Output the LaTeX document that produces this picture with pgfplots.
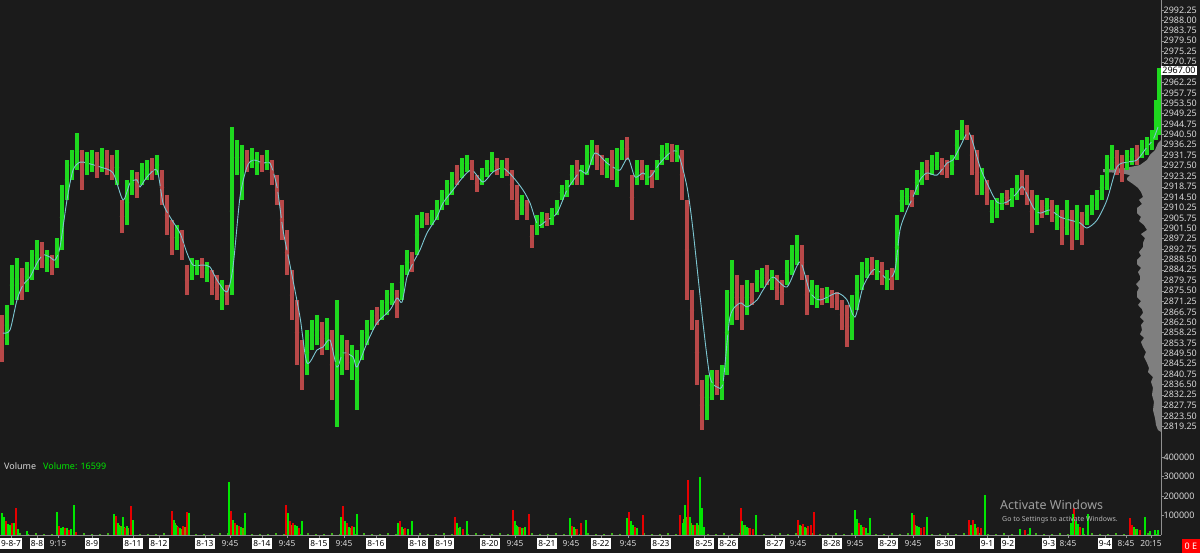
\documentclass[border=0pt]{standalone}
\usepackage{pgfplots}
\pgfplotsset{compat=1.18}
\usepackage{pgfplotstable}
\usepackage{fontspec}
\setmainfont{Noto Sans}
\definecolor{bg}{HTML}{1B1B1B}
\definecolor{candleG}{HTML}{1ED81E}
\definecolor{candleR}{HTML}{B84848}
\definecolor{volG}{HTML}{00E600}
\definecolor{volR}{HTML}{E60000}
\definecolor{volO}{HTML}{8A8A00}
\definecolor{volF}{HTML}{3CB414}
\definecolor{maC}{HTML}{7CC6D2}
\definecolor{profC}{HTML}{7F7F7F}
\definecolor{txt}{HTML}{D8D8D8}
\definecolor{axisC}{HTML}{909090}

% up candles: x, low, high
\pgfplotstableread{
x lo hi
7 2852.9 2869.6
12 2869.6 2886.2
17 2871.7 2889.1
27 2875.0 2887.5
32 2880.0 2892.5
37 2884.1 2896.6
47 2883.3 2892.5
57 2885.0 2897.4
62 2892.5 2919.5
67 2913.3 2929.9
72 2921.6 2934.0
77 2925.7 2941.1
87 2923.6 2933.2
92 2924.9 2934.0
102 2924.9 2934.9
117 2919.5 2934.0
127 2902.8 2921.6
132 2915.3 2925.7
142 2919.5 2928.6
147 2921.6 2929.9
157 2923.6 2932.0
177 2892.5 2902.8
192 2880.0 2889.1
197 2882.1 2888.3
207 2879.1 2887.5
222 2867.5 2880.0
232 2873.7 2943.6
237 2923.6 2938.2
242 2913.3 2936.1
252 2926.5 2934.9
257 2923.6 2933.2
267 2925.7 2934.0
307 2840.5 2859.2
312 2850.9 2863.3
317 2852.9 2865.4
327 2850.9 2864.2
337 2818.9 2871.7
342 2840.5 2857.1
352 2838.4 2852.9
357 2825.9 2850.9
362 2846.7 2859.2
367 2852.9 2863.3
372 2859.2 2867.5
382 2863.3 2871.7
387 2865.4 2875.8
392 2869.6 2878.7
402 2871.7 2886.2
407 2882.1 2892.5
417 2890.4 2907.0
422 2901.6 2908.3
432 2902.8 2909.1
437 2904.9 2913.3
442 2909.1 2917.4
447 2911.2 2921.6
452 2915.3 2924.9
462 2922.4 2930.7
467 2924.9 2932.0
482 2919.5 2926.5
487 2922.8 2929.9
492 2924.9 2933.2
502 2922.4 2929.9
522 2907.0 2915.3
537 2898.7 2907.0
542 2901.6 2908.3
552 2902.8 2909.9
557 2907.0 2913.3
562 2913.3 2919.5
567 2914.5 2921.6
572 2919.5 2927.8
582 2919.5 2927.8
587 2923.6 2936.1
592 2927.8 2938.2
607 2922.4 2930.7
617 2918.7 2934.9
622 2929.9 2938.2
637 2919.5 2929.9
647 2919.5 2927.8
657 2921.6 2929.9
662 2927.8 2936.1
667 2929.9 2936.9
677 2929.0 2936.1
707 2821.8 2840.5
712 2830.1 2842.6
722 2830.1 2844.6
727 2840.5 2875.8
732 2861.3 2888.3
747 2865.4 2880.0
757 2875.0 2884.1
762 2876.7 2885.0
772 2875.8 2884.1
787 2877.9 2888.3
792 2882.1 2894.5
797 2886.2 2898.7
812 2869.6 2880.0
817 2868.3 2877.9
827 2870.4 2877.1
852 2855.0 2873.7
857 2867.5 2882.1
862 2875.8 2887.5
867 2880.8 2889.1
877 2880.0 2888.3
887 2875.8 2884.1
897 2880.0 2907.0
902 2908.3 2917.4
907 2911.2 2918.3
917 2915.3 2925.7
922 2919.5 2929.0
932 2923.6 2932.0
937 2925.7 2933.2
952 2923.6 2932.0
957 2929.9 2942.3
962 2938.2 2946.5
982 2915.3 2926.5
992 2903.7 2913.3
997 2905.8 2914.1
1002 2909.1 2916.2
1012 2910.3 2918.3
1017 2913.3 2923.6
1037 2902.8 2915.3
1047 2907.0 2914.1
1057 2900.8 2911.2
1067 2898.7 2913.3
1077 2896.6 2911.2
1087 2902.8 2911.2
1092 2907.0 2915.3
1097 2909.1 2917.4
1102 2913.3 2923.6
1107 2917.4 2932.0
1112 2925.7 2936.1
1127 2925.7 2934.0
1132 2927.8 2934.9
1142 2930.7 2938.2
1147 2932.0 2939.4
1152 2934.0 2942.3
1156 2938.2 2954.8
1159 2940.3 2968.0
}\upC

% down candles: x, low, high
\pgfplotstableread{
x lo hi
2 2845.9 2865.4
22 2871.7 2885.0
42 2885.0 2895.8
52 2882.1 2890.4
82 2917.4 2934.0
97 2922.4 2933.2
107 2923.6 2934.0
112 2921.6 2932.0
122 2899.5 2913.3
137 2914.1 2924.9
152 2921.6 2930.7
162 2911.2 2925.7
167 2898.7 2915.3
172 2890.4 2904.9
182 2888.3 2900.8
187 2873.7 2886.2
202 2880.8 2889.1
212 2873.7 2884.1
217 2871.7 2882.1
227 2869.6 2877.9
247 2924.9 2934.0
262 2924.9 2932.0
272 2919.5 2929.9
277 2911.2 2923.6
282 2896.6 2913.3
287 2882.1 2900.8
292 2863.3 2884.1
297 2844.6 2871.7
302 2834.2 2855.0
322 2848.8 2862.5
332 2830.1 2859.2
347 2842.6 2855.0
377 2861.3 2868.8
397 2864.2 2875.8
412 2883.3 2891.6
427 2902.8 2907.8
457 2919.5 2927.8
472 2921.6 2929.9
477 2916.6 2923.6
497 2923.6 2930.7
507 2923.2 2930.7
512 2913.3 2925.7
517 2904.9 2919.5
527 2904.9 2913.3
532 2893.3 2902.8
547 2902.4 2907.8
577 2919.5 2929.9
597 2925.7 2936.1
602 2923.6 2932.0
612 2921.6 2934.0
627 2929.9 2939.4
632 2904.9 2923.6
642 2921.6 2929.9
652 2918.3 2925.7
672 2929.0 2936.5
682 2913.3 2934.0
687 2871.7 2913.3
692 2859.2 2875.8
697 2836.3 2863.3
702 2817.6 2838.4
717 2832.2 2842.6
737 2863.3 2882.1
742 2859.2 2877.9
752 2869.6 2878.7
767 2877.9 2886.2
777 2871.7 2882.1
782 2869.6 2880.0
802 2880.0 2894.5
807 2865.4 2882.1
822 2869.6 2876.7
832 2868.3 2875.8
837 2867.5 2875.0
842 2859.2 2871.7
847 2852.1 2869.6
872 2882.1 2889.5
882 2877.9 2887.5
892 2875.8 2885.0
912 2910.3 2917.4
927 2921.6 2929.9
942 2923.6 2930.7
947 2922.4 2929.9
967 2938.2 2944.4
972 2923.6 2940.3
977 2915.3 2934.0
987 2911.2 2921.6
1007 2911.2 2917.4
1022 2915.3 2925.7
1027 2911.2 2923.6
1032 2899.5 2917.4
1042 2905.8 2913.3
1052 2904.1 2913.3
1062 2894.5 2909.1
1072 2892.5 2909.1
1082 2894.5 2908.3
1117 2923.6 2934.0
1122 2920.7 2932.0
1137 2927.8 2936.1
}\downC

% volume, up bars
\pgfplotstableread{
x v
2 111000
4 94000
8 55000
10 51000
14 60000
18 30000
27 20000
57 118000
61 34000
63 40000
67 35000
71 30000
74 154000
114 107000
118 60000
120 40000
123 91000
127 45000
133 77000
174 77000
176 50000
180 35000
189 111000
229 273000
233 77000
237 50000
241 40000
245 115000
288 111000
295 50000
297 45000
302 70000
341 90000
345 70000
349 40000
354 40000
357 110000
398 60000
402 40000
408 30000
412 70000
457 60000
460 40000
467 70000
515 71000
517 46000
522 35000
525 39000
570 88000
574 40000
586 76000
627 85000
631 71000
633 50000
637 35000
683 60000
685 153000
690 93000
693 51000
697 59000
700 300000
702 136000
704 40000
742 71000
745 50000
747 40000
756 103000
800 50000
805 40000
855 127000
857 80000
861 50000
866 35000
870 88000
912 114000
917 45000
919 40000
927 93000
971 50000
975 55000
985 203000
1020 30000
1030 35000
1071 60000
1073 110000
1076 70000
1078 55000
1083 35000
1088 107000
1134 40000
1137 30000
1145 92000
1150 20000
1155 25000
1158 26000
}\volUp

% volume, down bars
\pgfplotstableread{
x v
6 70000
12 60000
16 137000
59 45000
65 34000
69 28000
76 17000
116 95000
125 35000
131 149000
172 125000
178 40000
183 45000
187 118000
231 125000
235 60000
239 45000
286 154000
290 70000
293 60000
299 35000
343 150000
347 60000
352 45000
400 70000
405 35000
455 90000
463 30000
513 127000
520 40000
524 34000
529 107000
572 46000
577 30000
581 59000
629 119000
635 40000
643 102000
680 102000
688 280000
695 50000
741 136000
750 35000
753 30000
798 76000
803 55000
808 45000
811 50000
814 119000
859 60000
864 40000
914 102000
921 35000
924 40000
969 76000
973 76000
978 40000
981 38000
1025 25000
1074 136000
1080 40000
1130 87000
1132 51000
1140 25000
}\volDn

% volume, mixed-colour bars inside the opening clusters
\pgfplotstableread{
x v
9 45000
11 40000
13 50000
62 30000
64 28000
66 30000
70 25000
119 50000
121 45000
124 40000
128 38000
175 60000
177 45000
179 35000
181 30000
185 40000
232 70000
234 55000
236 45000
238 40000
240 38000
243 35000
289 60000
291 50000
294 45000
296 40000
344 60000
346 50000
348 40000
350 35000
401 40000
403 30000
456 45000
458 35000
514 60000
516 50000
518 40000
521 35000
571 40000
573 35000
575 30000
628 60000
630 55000
632 45000
634 40000
684 80000
686 90000
689 70000
691 60000
694 45000
696 40000
698 50000
743 50000
744 45000
746 40000
748 35000
799 50000
801 45000
804 40000
806 35000
856 70000
858 55000
860 45000
862 40000
913 60000
915 50000
918 40000
970 45000
972 45000
974 40000
976 35000
1072 55000
1075 70000
1077 50000
1079 40000
1131 50000
1133 40000
1135 30000
}\volMix

% low overnight volume
\pgfplotstableread{
x v
20 8000
28 5000
36 10000
44 6000
52 4000
60 9000
68 7000
76 5000
84 11000
92 6000
100 4000
108 8000
116 12000
124 6000
132 9000
140 5000
148 7000
156 4000
164 10000
172 8000
180 6000
188 9000
196 5000
204 7000
212 4000
220 11000
228 8000
236 6000
244 9000
252 5000
260 7000
268 4000
276 10000
284 6000
292 8000
300 5000
308 9000
316 7000
324 4000
332 11000
340 6000
348 8000
356 5000
364 9000
372 7000
380 4000
388 10000
396 6000
404 8000
412 5000
420 9000
428 7000
436 4000
444 11000
452 6000
460 8000
468 5000
476 9000
484 7000
492 4000
500 10000
508 6000
516 8000
524 5000
532 9000
540 7000
548 4000
556 11000
564 6000
572 8000
580 5000
588 9000
596 7000
604 4000
612 10000
620 6000
628 8000
636 5000
644 9000
652 7000
660 4000
668 11000
676 6000
684 8000
692 5000
700 9000
708 7000
716 4000
724 10000
732 6000
740 8000
748 5000
756 9000
764 7000
772 4000
780 11000
788 6000
796 8000
804 5000
812 9000
820 7000
828 4000
836 10000
844 6000
852 8000
860 5000
868 9000
876 7000
884 4000
892 11000
900 6000
908 8000
916 5000
924 9000
932 7000
940 4000
948 10000
956 6000
964 8000
972 5000
980 9000
988 7000
996 4000
1004 11000
1012 6000
1020 8000
1028 5000
1036 9000
1044 7000
1052 4000
1060 10000
1068 6000
1076 8000
1084 5000
1092 9000
1100 7000
1108 4000
1116 11000
1124 6000
1132 8000
1140 5000
1148 9000
1156 7000
}\volLow

\begin{document}
\begin{tikzpicture}[font=\fontsize{9}{10}\selectfont]
\useasboundingbox (0,0) rectangle (1200bp,553bp);
\fill[bg] (0,0) rectangle (1200bp,553bp);

% ---------------- price panel ----------------
\begin{axis}[
  at={(0,103bp)}, anchor=south west,
  scale only axis, width=1161bp, height=450bp,
  xmin=0, xmax=1161, ymin=2809.3, ymax=2996.41,
  clip=false,
  axis x line=none, axis y line*=right,
  y axis line style={-, draw=axisC},
  tick style={draw=axisC}, major tick length=3bp, tick align=outside,
  ytick={2819.25,2823.50,2827.75,2832.25,2836.50,2840.75,2845.25,2849.50,2853.75,2858.25,2862.50,2866.75,2871.25,2875.50,2879.75,2884.25,2888.50,2892.75,2897.25,2901.50,2905.75,2910.25,2914.50,2918.75,2923.25,2927.50,2931.75,2936.25,2940.50,2944.75,2949.25,2953.50,2957.75,2962.25,2970.75,2975.25,2979.50,2983.75,2988.00,2992.25},
  yticklabels={2819.25,2823.50,2827.75,2832.25,2836.50,2840.75,2845.25,2849.50,2853.75,2858.25,2862.50,2866.75,2871.25,2875.50,2879.75,2884.25,2888.50,2892.75,2897.25,2901.50,2905.75,2910.25,2914.50,2918.75,2923.25,2927.50,2931.75,2936.25,2940.50,2944.75,2949.25,2953.50,2957.75,2962.25,2970.75,2975.25,2979.50,2983.75,2988.00,2992.25},
  yticklabel style={text=txt, inner sep=0.5bp, anchor=west, xshift=-1bp},
  /pgf/number format/assume math mode=true,
]
% volume profile
\addplot[fill=profC, draw=none] coordinates {
(1161,2938.2) (1158,2936.9) (1155,2934.0) (1150,2932.0) (1147,2929.9) (1140,2927.8) (1125,2926.5) (1103,2926.1) (1103,2924.9) (1120,2924.5) (1130,2923.6) (1127,2922.4) (1127,2921.6) (1133,2919.9) (1138,2918.3) (1141,2916.6) (1143,2914.5) (1139,2913.3) (1142,2911.6) (1137,2909.9) (1137,2907.8) (1141,2906.2) (1139,2904.5) (1144,2902.8) (1147,2900.8) (1141,2899.1) (1145,2897.4) (1143,2895.4) (1143,2893.7) (1139,2891.6) (1141,2890.0) (1137,2888.3) (1137,2886.6) (1141,2885.0) (1138,2883.3) (1140,2881.6) (1140,2880.0) (1136,2878.3) (1139,2876.7) (1137,2875.0) (1137,2872.9) (1141,2871.2) (1138,2869.6) (1142,2867.9) (1143,2866.3) (1140,2864.6) (1144,2862.9) (1141,2861.3) (1142,2859.2) (1140,2857.5) (1144,2855.9) (1141,2854.2) (1143,2852.1) (1146,2850.0) (1144,2848.0) (1147,2845.5) (1149,2843.4) (1148,2841.7) (1153,2839.6) (1151,2837.6) (1153,2835.1) (1152,2832.2) (1154,2829.3) (1153,2825.9) (1155,2822.6) (1156,2819.7) (1158,2817.6) (1161,2816.8)
};
% candles
\addplot[only marks, mark=none, color=candleR,
  error bars/.cd, y dir=both, y explicit, error mark=none,
  error bar style={line width=4.6bp, draw=candleR}]
  table[x=x, y expr={0.5*(\thisrow{lo}+\thisrow{hi})}, y error expr={0.5*(\thisrow{hi}-\thisrow{lo})}] {\downC};
\addplot[only marks, mark=none, color=candleG,
  error bars/.cd, y dir=both, y explicit, error mark=none,
  error bar style={line width=4.6bp, draw=candleG}]
  table[x=x, y expr={0.5*(\thisrow{lo}+\thisrow{hi})}, y error expr={0.5*(\thisrow{hi}-\thisrow{lo})}] {\upC};
% moving average
\addplot[smooth, tension=0.45, color=maC, line width=0.9bp] coordinates {
(3,2857.9) (10,2859.2) (17,2871.7) (23,2877.9) (30,2881.2) (37,2887.0) (43,2890.4) (50,2889.5) (55,2888.3) (60,2893.7) (67,2913.3) (73,2925.7) (80,2929.0) (87,2928.6) (100,2927.0) (113,2924.5) (123,2913.3) (130,2920.3) (137,2921.6) (140,2918.7) (147,2922.8) (157,2925.7) (163,2912.0) (170,2906.2) (180,2899.5) (187,2891.2) (193,2886.2) (203,2886.2) (210,2885.4) (217,2880.0) (227,2875.0) (233,2885.4) (240,2914.5) (247,2927.0) (253,2929.9) (263,2928.6) (270,2928.6) (277,2918.7) (283,2900.8) (290,2886.2) (300,2864.6) (307,2845.5) (317,2850.9) (323,2852.1) (330,2855.0) (337,2843.8) (343,2849.6) (353,2848.0) (357,2843.8) (367,2853.8) (377,2862.1) (390,2867.5) (397,2872.5) (402,2870.8) (407,2881.2) (413,2887.0) (420,2892.5) (427,2899.5) (437,2906.2) (443,2912.0) (453,2917.4) (463,2922.8) (472,2925.7) (483,2920.7) (493,2924.9) (503,2926.5) (513,2922.8) (523,2917.4) (530,2912.0) (538,2902.8) (547,2904.9) (557,2907.8) (567,2917.4) (577,2923.6) (580,2925.7) (587,2924.5) (595,2932.8) (607,2928.6) (613,2927.0) (620,2925.7) (628,2930.7) (635,2922.8) (643,2924.5) (650,2922.8) (660,2928.6) (670,2932.8) (678,2932.8) (687,2918.7) (693,2900.8) (703,2862.1) (710,2839.6) (717,2835.5) (723,2837.2) (730,2864.6) (740,2870.4) (747,2868.8) (757,2871.7) (763,2875.8) (773,2881.2) (787,2877.1) (800,2887.5) (810,2875.0) (820,2871.7) (837,2874.6) (847,2871.7) (855,2864.6) (863,2877.1) (873,2884.1) (880,2883.3) (888,2880.0) (895,2884.1) (900,2900.8) (907,2909.1) (913,2914.5) (920,2921.6) (927,2924.5) (937,2923.6) (947,2928.6) (953,2929.9) (960,2935.3) (968,2941.5) (973,2936.9) (980,2927.0) (987,2920.3) (997,2912.4) (1007,2912.4) (1017,2916.2) (1023,2918.7) (1033,2910.3) (1040,2907.8) (1050,2909.1) (1060,2906.2) (1070,2904.9) (1080,2903.7) (1087,2901.6) (1097,2904.9) (1107,2913.3) (1117,2927.0) (1127,2929.0) (1137,2929.9) (1147,2935.3) (1153,2938.2) (1158,2943.6)
};
\node[fill=white, text=black, anchor=west, inner sep=1.2bp] at (axis cs:1161,2967) {2967.00};
\end{axis}

% ---------------- volume panel ----------------
\begin{axis}[
  at={(0,18bp)}, anchor=south west,
  scale only axis, width=1161bp, height=85bp,
  xmin=0, xmax=1161, ymin=0, ymax=435900,
  scaled y ticks=false,
  axis x line*=bottom, axis y line*=right,
  x axis line style={-, draw=axisC}, y axis line style={-, draw=axisC},
  tick style={draw=axisC}, major tick length=3bp, tick align=outside,
  ytick={100000,200000,300000,400000},
  yticklabels={100000,200000,300000,400000},
  yticklabel style={text=txt, inner sep=0.5bp, anchor=west, xshift=-1bp},
  xtick={11,37,92,133,159,205,262,319,376,418,444,490,547,601,661,704,728,775,832,888,945,987,1008,1049,1105},
  xticklabels={9-8-7,8-8,8-9,8-11,8-12,8-13,8-14,8-15,8-16,8-18,8-19,8-20,8-21,8-22,8-23,8-25,8-26,8-27,8-28,8-29,8-30,9-1,9-2,9-3,9-4},
  xticklabel style={font=\fontsize{8.4}{9}\selectfont, fill=white, text=black, inner sep=1bp, text height=7.5bp, text depth=2.3bp, anchor=north, yshift=0.5bp},
  extra x ticks={58,230,287,344,515,571,628,798,855,913,1068,1126,1151},
  extra x tick labels={9:15,9:45,9:45,9:45,9:45,9:45,9:45,9:45,9:45,9:45,8:45,8:45,20:15},
  extra x tick style={xticklabel style={fill=none, text=txt}},
  /pgf/number format/assume math mode=true,
]
\addplot[ycomb, draw=volF, line width=1.5bp] table[x=x, y=v] {\volLow};
\addplot[ycomb, draw=volO, line width=1.5bp] table[x=x, y=v] {\volMix};
\addplot[ycomb, draw=volR, line width=1.8bp] table[x=x, y=v] {\volDn};
\addplot[ycomb, draw=volG, line width=1.8bp] table[x=x, y=v] {\volUp};
\end{axis}

% labels
\node[anchor=west, inner sep=0pt] at (4bp,87bp) {\textcolor{txt}{Volume}\hspace{7bp}\textcolor{volG}{Volume: 16599}};
\node[anchor=west, inner sep=0pt, text=gray!75, font=\fontsize{12.5}{13}\selectfont] at (1000bp,48bp) {Activate Windows};
\node[anchor=west, inner sep=0pt, text=gray!55, font=\fontsize{7}{8}\selectfont] at (1002bp,33bp) {Go to Settings to activate Windows.};
\node[anchor=south east, fill=red, text=white, minimum width=18bp, minimum height=14bp, inner sep=1bp] at (1200bp,0) {0 E};
\end{tikzpicture}
\end{document}
